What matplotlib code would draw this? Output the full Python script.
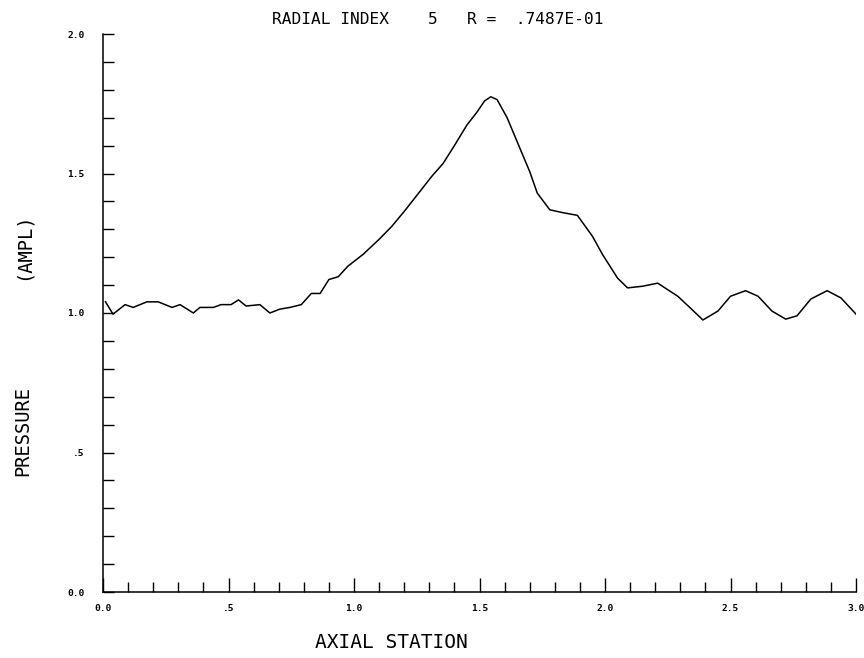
import numpy as np
import matplotlib
matplotlib.use("Agg")
import matplotlib.pyplot as plt
from matplotlib.ticker import MultipleLocator, FixedLocator

# axial station vs pressure amplitude
axial = [0.01, 0.04, 0.088, 0.12, 0.175, 0.22, 0.275, 0.307, 0.36, 0.386,
         0.44, 0.47, 0.51, 0.54, 0.57, 0.625, 0.665, 0.705, 0.745, 0.79,
         0.83, 0.865, 0.90, 0.937, 0.976, 1.036, 1.10, 1.15, 1.20, 1.263,
         1.31, 1.355, 1.40, 1.45, 1.49, 1.52, 1.545, 1.57, 1.61, 1.65, 1.70,
         1.73, 1.78, 1.83, 1.89, 1.95, 1.99, 2.05, 2.09, 2.15, 2.21,
         2.29, 2.34, 2.39, 2.45, 2.50, 2.56, 2.61, 2.665, 2.72, 2.765,
         2.82, 2.885, 2.94, 3.0]
ampl = [1.04, 0.996, 1.03, 1.02, 1.04, 1.04, 1.02, 1.03, 1.0, 1.02,
        1.02, 1.03, 1.03, 1.047, 1.025, 1.03, 1.0, 1.014, 1.02, 1.03,
        1.07, 1.07, 1.12, 1.13, 1.168, 1.21, 1.264, 1.31, 1.364, 1.436,
        1.49, 1.536, 1.60, 1.674, 1.72, 1.76, 1.775, 1.765, 1.70, 1.614, 1.507,
        1.43, 1.37, 1.36, 1.35, 1.275, 1.21, 1.125, 1.09, 1.096, 1.107,
        1.06, 1.018, 0.975, 1.007, 1.06, 1.08, 1.06, 1.007, 0.978, 0.99,
        1.05, 1.08, 1.054, 0.996]

x_ticks = [0.0, 0.5, 1.0, 1.5, 2.0, 2.5, 3.0]
x_labels = ["0.0", ".5", "1.0", "1.5", "2.0", "2.5", "3.0"]
y_ticks = [0.0, 0.5, 1.0, 1.5, 2.0]
y_labels = ["0.0", ".5", "1.0", "1.5", "2.0"]

mono = "DejaVu Sans Mono"

fig = plt.figure(figsize=(8.64, 6.58), dpi=100)
ax = fig.add_axes([103/864, 1-592/658, 753/864, 558/658])

ax.plot(axial, ampl, color="black", lw=1.1)

ax.set_xlim(0, 3.0)
ax.set_ylim(0, 2.0)
for s in ["top", "right"]:
    ax.spines[s].set_visible(False)
ax.spines["left"].set_linewidth(1.1)
ax.spines["bottom"].set_linewidth(1.1)

ax.xaxis.set_major_locator(FixedLocator(x_ticks))
ax.set_xticklabels(x_labels)
ax.xaxis.set_minor_locator(MultipleLocator(0.1))
ax.yaxis.set_major_locator(FixedLocator(y_ticks))
ax.set_yticklabels(y_labels)
ax.yaxis.set_minor_locator(MultipleLocator(0.1))

ax.tick_params(axis="x", which="major", direction="in", length=10, width=1,
               pad=8.5, labelsize=6.8)
ax.tick_params(axis="x", which="minor", direction="in", length=7, width=1)
ax.tick_params(axis="y", which="both", direction="in", length=8, width=1,
               pad=13.5, labelsize=6.8)
for lab in ax.get_xticklabels() + ax.get_yticklabels():
    lab.set_fontweight("bold")
    lab.set_family(mono)

fig.text(272/864, 1-19/658, "RADIAL INDEX    5   R =  .7487E-01",
         ha="left", va="center", fontsize=11.6, family=mono)
fig.text(23/864, 1-246/658, "(AMPL)", rotation=90, ha="center",
         va="center", fontsize=13.5, family=mono)
fig.text(23/864, 1-431/658, "PRESSURE", rotation=90, ha="center",
         va="center", fontsize=13.5, family=mono)
fig.text(391/864, 1-643/658, "AXIAL STATION", ha="center", va="center",
         fontsize=14, family=mono)

fig.savefig("out.png", dpi=100)
